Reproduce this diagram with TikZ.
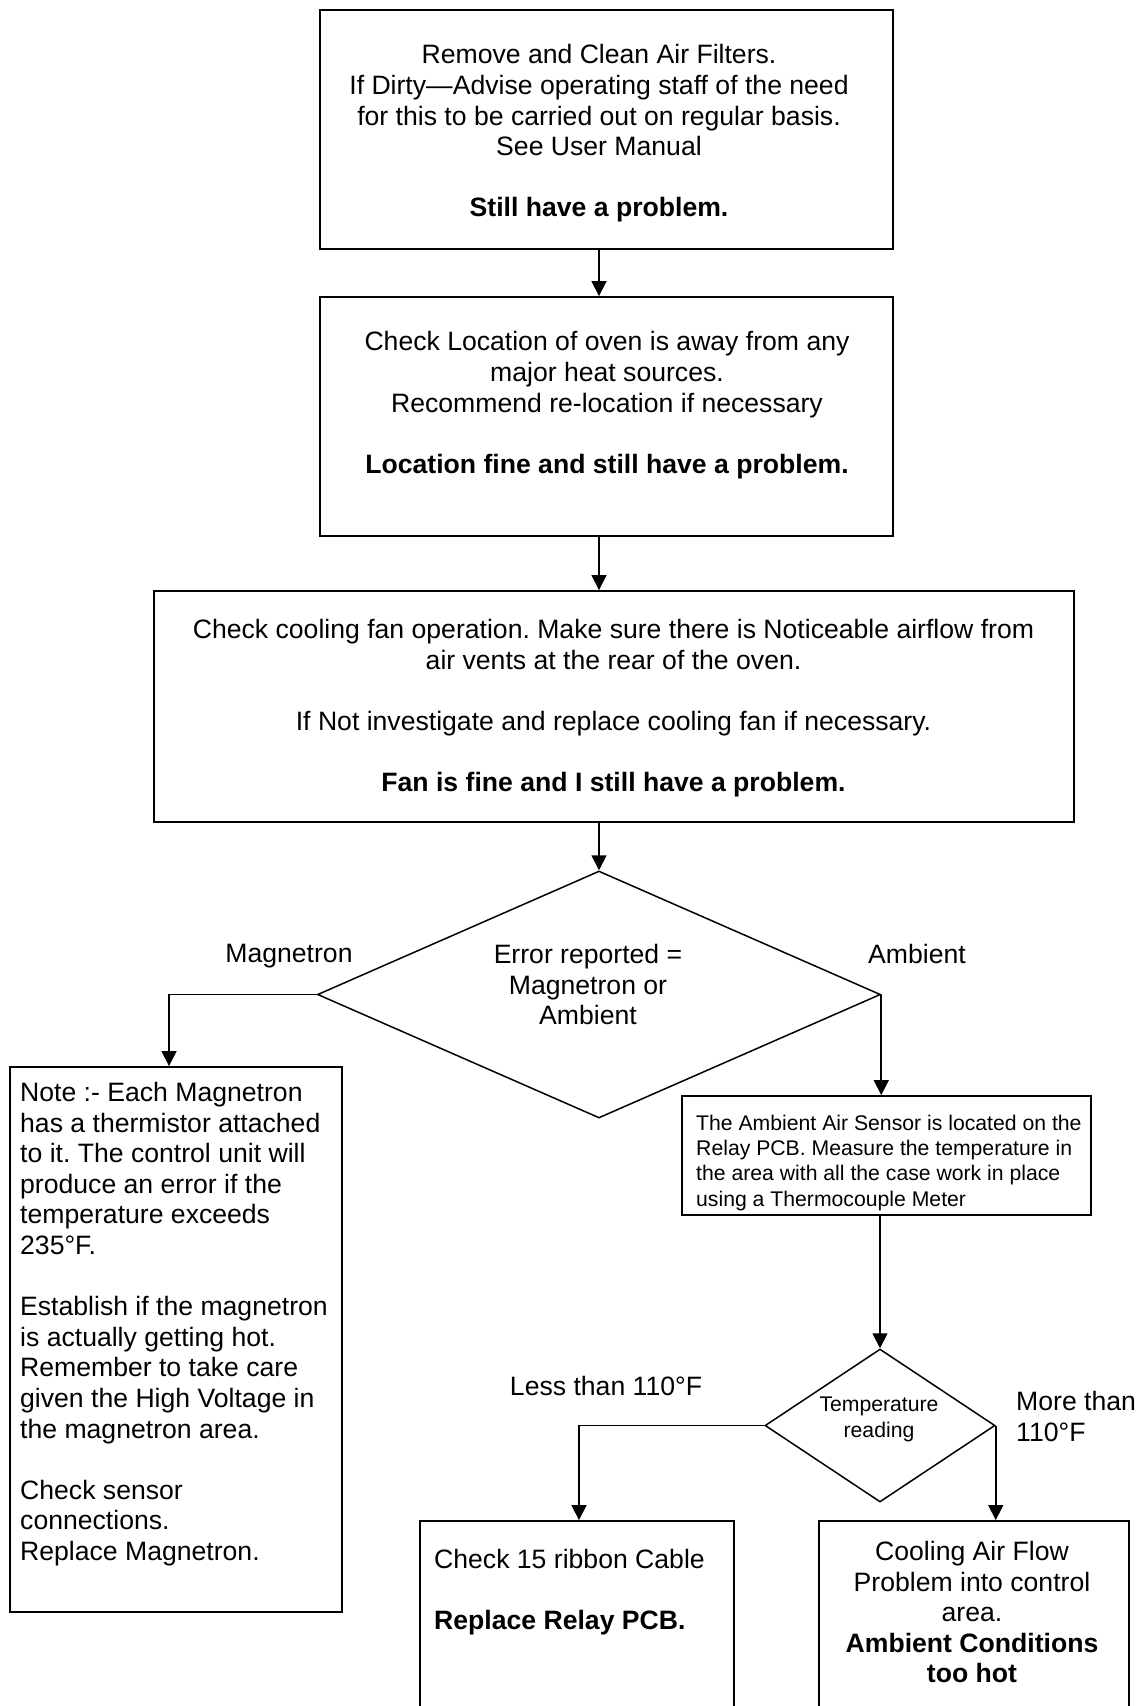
\documentclass[tikz,border=0pt]{standalone}
\usepackage{fontspec}
\setmainfont{Liberation Sans}
\usetikzlibrary{shapes.geometric,arrows.meta}
\begin{document}
\frenchspacing
\begin{tikzpicture}[x=1pt,y=-1pt,
  box/.style={draw,line width=1.9pt,inner sep=0pt,rectangle},
  dia/.style={draw,line width=1.5pt,inner sep=0pt,shape=diamond},
  txt/.style={inner sep=0pt,font=\fontsize{26.6}{30.6}\selectfont},
  small/.style={inner sep=0pt,font=\fontsize{21.2}{25.4}\selectfont},
  arr/.style={line width=1.7pt,-{Triangle[length=15pt,width=15pt]}}]
\useasboundingbox (0,0) rectangle (1141,1706);
\fill[white] (0,0) rectangle (1141,1706);

% boxes
\node[box,minimum width=573pt,minimum height=239pt] (b1) at (606.5,129.5) {};
\node[box,minimum width=573pt,minimum height=239pt] (b2) at (606.5,416.5) {};
\node[box,minimum width=920pt,minimum height=231pt] (b3) at (614,706.5) {};
\node[dia,minimum width=563pt,minimum height=247pt] (d1) at (599,994.5) {};
\node[box,minimum width=332pt,minimum height=545pt] (b4) at (176,1339.5) {};
\node[box,minimum width=409pt,minimum height=119pt] (b5) at (886.5,1155.5) {};
\node[dia,minimum width=230pt,minimum height=153pt] (d2) at (880,1425.5) {};
\node[box,minimum width=314pt,minimum height=191pt] (b6) at (577,1616.5) {};
\node[box,minimum width=310pt,minimum height=191pt] (b7) at (974,1616.5) {};

% texts
\node[txt,anchor=north,align=center] (t1) at (599,44.5) {Remove and Clean Air Filters.\\If Dirty—Advise operating staff of the need\\for this to be carried out on regular basis.\\See User Manual\\[30.6pt]\textbf{Still have a problem.}};
\node[txt,anchor=north,align=center] (t2) at (607,331.5) {Check Location of oven is away from any\\major heat sources.\\Recommend re-location if necessary\\[30.6pt]\textbf{Location fine and still have a problem.}};
\node[txt,anchor=north,align=center] (t3) at (613.5,619) {Check cooling fan operation. Make sure there is Noticeable airflow from\\air vents at the rear of the oven.\\[30.6pt]If Not investigate and replace cooling fan if necessary.\\[30.6pt]\textbf{Fan is fine and I still have a problem.}};
\node[txt,anchor=north,align=center] (t4) at (588,944) {Error reported =\\Magnetron or\\Ambient};
\node[txt,anchor=north west,align=left] (t5) at (20,1082) {Note :- Each Magnetron\\has a thermistor attached\\to it. The control unit will\\produce an error if the\\temperature exceeds\\235°F.\\[30.6pt]Establish if the magnetron\\is actually getting hot.\\Remember to take care\\given the High Voltage in\\the magnetron area.\\[30.6pt]Check sensor\\connections.\\Replace Magnetron.};
\node[small,anchor=north west,align=left] (t6) at (696,1114.5) {The Ambient Air Sensor is located on the\\Relay PCB. Measure the temperature in\\the area with all the case work in place\\using a Thermocouple Meter};
\node[small,anchor=north,align=center] (t7) at (879,1397) {Temperature\\reading};
\node[txt,anchor=north west,align=left] (t8) at (434,1549) {Check 15 ribbon Cable\\[30.6pt]\textbf{Replace Relay PCB.}};
\node[txt,anchor=north,align=center] (t9) at (972,1541) {Cooling Air Flow\\Problem into control\\area.\\\textbf{Ambient Conditions}\\\textbf{too hot}};

% labels
\node[txt,anchor=north] (l1) at (289,944) {Magnetron};
\node[txt,anchor=north] (l2) at (917,944) {Ambient};
\node[txt,anchor=north] (l3) at (606,1376) {Less than 110°F};
\node[txt,anchor=north west,align=left] (l4) at (1016,1391) {More than\\110°F};

% connectors
\coordinate (ax) at (599,0);
\coordinate (axl) at (169,0);
\coordinate (axm) at (579,0);
\draw[arr] (b1.south -| ax) -- (b2.north -| ax);
\draw[arr] (b2.south -| ax) -- (b3.north -| ax);
\draw[arr] (b3.south -| ax) -- (d1.north);
\draw[arr] (d1.west) -| (axl |- b4.north);
\draw[arr] (d1.east) -- (d1.east |- b5.north);
\draw[arr] (b5.south -| d2.north) -- (d2.north);
\draw[arr] (d2.west) -| (axm |- b6.north);
\draw[arr] (d2.east) -- (d2.east |- b7.north);
\end{tikzpicture}
\end{document}
